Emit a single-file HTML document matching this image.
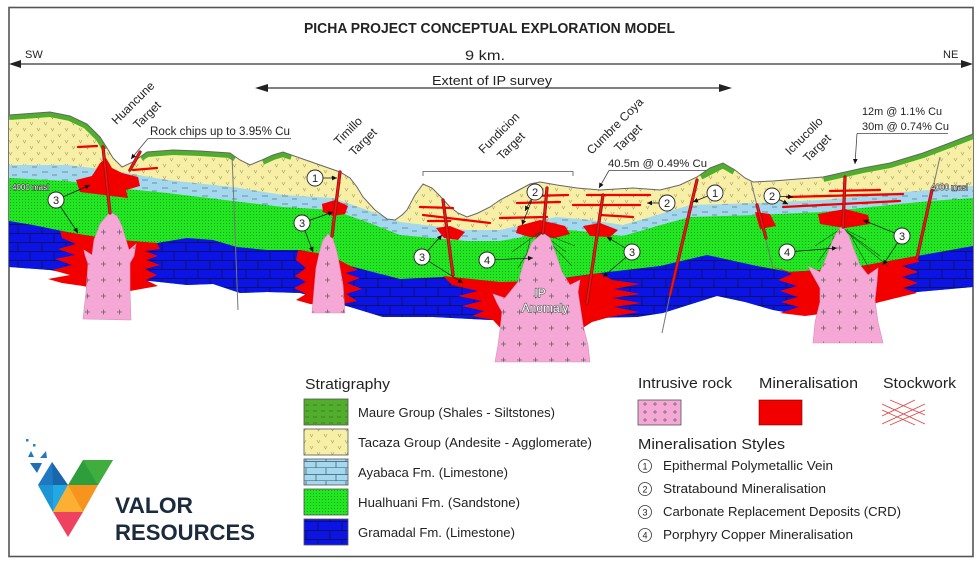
<!DOCTYPE html>
<html><head><meta charset="utf-8"><style>
html,body{margin:0;padding:0;background:#fff;}
svg{display:block;}
text{font-family:"Liberation Sans",sans-serif;fill:#222;}
</style></head><body>
<svg width="980" height="563" viewBox="0 0 980 563" xmlns="http://www.w3.org/2000/svg">
<defs>
<pattern id="py" width="14" height="12" patternUnits="userSpaceOnUse"><rect width="14" height="12" fill="#f7efa6"/><path d="M2,2 l1.5,3 l1.5,-3 M9,8 l1.5,3 l1.5,-3" stroke="#a9a262" stroke-width=".6" fill="none"/></pattern>
<pattern id="pg" width="3" height="3" patternUnits="userSpaceOnUse"><rect width="3" height="3" fill="#22e622"/><rect x="1" y="1" width="1" height="1" fill="#13a813"/></pattern>
<pattern id="pb" width="24" height="18" patternUnits="userSpaceOnUse"><rect width="24" height="18" fill="#0b14e4"/><path d="M0,8.5H24M0,17.5H24M6,0V9M18,9V18" stroke="#101040" stroke-width=".7"/></pattern>
<pattern id="plb" width="20" height="8" patternUnits="userSpaceOnUse"><rect width="20" height="8" fill="#a3d8ee"/><path d="M2,4h6M12,7h5" stroke="#445" stroke-width=".6"/></pattern>
<pattern id="plbl" width="20" height="13" patternUnits="userSpaceOnUse"><rect width="20" height="13" fill="#a3d8ee"/><path d="M0,6.5H20M0,12.8H20M6,0V6.5M16,6.5V13" stroke="#456" stroke-width=".7"/></pattern>
<pattern id="pm" width="8" height="6" patternUnits="userSpaceOnUse"><rect width="8" height="6" fill="#52ad2c"/><path d="M1,3h4" stroke="#2c6a18" stroke-width=".6"/></pattern>
<pattern id="pp" width="16" height="16" patternUnits="userSpaceOnUse"><rect width="16" height="16" fill="#f5a7d6"/><path d="M5,8h5M7.5,5.5v5" stroke="#666" stroke-width=".8"/></pattern>
<pattern id="ppl" width="10" height="8" patternUnits="userSpaceOnUse"><rect width="10" height="8" fill="#f5a7d6"/><path d="M3,4h4M5,2v4" stroke="#666" stroke-width=".7"/></pattern>
<marker id="ah" markerWidth="6" markerHeight="6" refX="5" refY="3" orient="auto" markerUnits="userSpaceOnUse"><path d="M0,0.6 L5,3 L0,5.4z" fill="#111"/></marker>
<clipPath id="ground"><polygon points="9,115 50,112 70,116 87,124 100,137 107,148 113,158 122,167 133,162 147,152 173,150 200,151 230,153 240,160 250,165 262,160 273,155 283,152 300,158 320,165 340,172 350,178 357,187 363,197 375,210 387,219 395,220 402,215 407,210 415,195 423,184 432,188 440,196 450,207 458,213 467,217 478,213 490,207 500,200 517,191 530,184 540,182 557,185 577,188 600,190 633,188 660,190 680,185 697,177 710,168 723,163 735,170 745,178 753,182 773,181 823,177 863,168 890,163 923,153 947,144 973,134 973,420 9,420"/></clipPath>
</defs>

<rect x="9" y="7.5" width="964" height="549" fill="none" stroke="#555" stroke-width="1.6"/>

<text x="304" y="33" font-size="14.5" font-weight="bold" textLength="371" lengthAdjust="spacingAndGlyphs">PICHA PROJECT CONCEPTUAL EXPLORATION MODEL</text>
<text x="465" y="60" font-size="14" textLength="40" lengthAdjust="spacingAndGlyphs">9 km.</text>
<text x="25" y="58" font-size="11">SW</text>
<text x="943" y="58" font-size="11">NE</text>
<line x1="15" y1="64" x2="967" y2="64" stroke="#333" stroke-width="1.2"/>
<polygon points="9,64 21,60 21,68" fill="#222"/>
<polygon points="973,64 961,60 961,68" fill="#222"/>
<text x="432" y="85" font-size="12.5" textLength="120" lengthAdjust="spacingAndGlyphs">Extent of  IP survey</text>
<line x1="262" y1="88" x2="726" y2="88" stroke="#333" stroke-width="1.2"/>
<polygon points="255,88 268,84 268,92" fill="#222"/>
<polygon points="732,88 719,84 719,92" fill="#222"/>

<g clip-path="url(#ground)">
<polygon fill="url(#py)" points="9,100 973,100 973,287 917,292 850,305 790,313 773,310 745,302 717,296 663,313 637,317 590,318 540,318 490,320 433,317 383,317 350,307 300,293 267,292 240,293 213,284 187,285 150,281 83,276 50,270 9,267"/>
<polygon fill="url(#plb)" points="9,165 67,165 110,170 167,180 233,187 283,195 333,198 367,210 400,222 433,226 467,230 500,230 523,225 540,220 557,217 590,220 623,225 657,215 690,205 757,203 823,200 890,193 930,190 973,186 973,287 917,292 850,305 790,313 773,310 745,302 717,296 663,313 637,317 590,318 540,318 490,320 433,317 383,317 350,307 300,293 267,292 240,293 213,284 187,285 150,281 83,276 50,270 9,267"/>
<polygon fill="url(#pg)" points="9,178 67,181 127,189 167,193 233,201 283,207 333,210 367,222 400,235 433,238 467,241 500,241 523,237 540,232 557,229 590,232 623,236 657,226 690,217 757,215 823,212 890,205 930,201 973,198 973,287 917,292 850,305 790,313 773,310 745,302 717,296 663,313 637,317 590,318 540,318 490,320 433,317 383,317 350,307 300,293 267,292 240,293 213,284 187,285 150,281 83,276 50,270 9,267"/>
<polygon fill="url(#pb)" points="9,221 33,225 67,232 110,240 157,243 187,238 213,240 237,247 267,250 300,250 330,256 350,266 400,279 443,277 500,283 540,281 600,273 660,266 707,255 757,266 790,272 850,268 917,256 973,246 973,287 917,292 850,305 790,313 773,310 745,302 717,296 663,313 637,317 590,318 540,318 490,320 433,317 383,317 350,307 300,293 267,292 240,293 213,284 187,285 150,281 83,276 50,270 9,267"/>
<g fill="none" stroke="#4fae2c" stroke-width="10" stroke-linejoin="round">
<polyline points="9,115 50,112 70,116 87,124 100,137 107,148"/>
<polyline points="140,156 147,152 173,150 200,151 230,153 236,157"/>
<polyline points="262,160 273,155 283,152 292,155"/>
<polyline points="700,175 723,163 735,170"/>
<polyline points="823,177 863,168 890,163 923,153 947,144 973,134"/>
</g>
</g>
<polyline fill="none" stroke="#666" stroke-width="1" points="9,115 50,112 70,116 87,124 100,137 107,148 113,158 122,167 133,162 147,152 173,150 200,151 230,153 240,160 250,165 262,160 273,155 283,152 300,158 320,165 340,172 350,178 357,187 363,197 375,210 387,219 395,220 402,215 407,210 415,195 423,184 432,188 440,196 450,207 458,213 467,217 478,213 490,207 500,200 517,191 530,184 540,182 557,185 577,188 600,190 633,188 660,190 680,185 697,177 710,168 723,163 735,170 745,178 753,182 773,181 823,177 863,168 890,163 923,153 947,144 973,134"/>

<g stroke="#777" stroke-width="1" fill="none">
<line x1="232" y1="155" x2="238" y2="310"/>
<line x1="670" y1="295" x2="662" y2="333"/>
<line x1="751" y1="182" x2="773" y2="268"/>
<line x1="940" y1="157" x2="917" y2="258"/>
</g>

<g fill="#f20000">
<polygon points="60,231 110,239 157,243 160,249 145,251 158,256 146,260 160,265 145,269 157,275 146,280 158,286 130,291 100,290 83,286 62,283 48,279 70,275 52,270 72,265 55,259 75,255 58,249 76,244 62,238"/>
<polygon points="298,250 330,255 350,266 358,270 345,273 360,278 347,283 362,289 346,294 357,301 332,306 310,304 296,300 306,294 294,288 306,282 295,276 306,268 296,260"/>
<polygon points="443,276 500,282 540,281 580,276 600,273 612,280 640,284 614,289 640,294 612,298 641,303 614,307 639,312 610,317 592,322 575,333 505,333 493,320 472,316 484,311 462,306 482,301 458,296 478,291 452,285"/>
<polygon points="770,266 790,272 850,268 917,256 919,262 902,266 918,272 902,277 918,283 903,288 917,293 880,302 852,310 805,316 780,313 799,307 781,302 798,297 780,291 797,286 778,280 792,274"/>
<polygon points="76,180 92,176 100,163 106,158 112,168 122,173 138,177 140,186 126,190 128,198 112,196 96,194 80,192"/>
<polygon points="322,204 335,200 348,206 345,214 333,216 323,212"/>
<polygon points="436,228 450,226 465,232 458,240 444,238"/>
<polygon points="518,226 540,220 565,226 570,234 555,238 530,237 516,233"/>
<polygon points="583,226 600,223 618,230 610,237 590,236"/>
<polygon points="755,212 770,214 776,226 760,229"/>
<polygon points="818,214 845,209 868,215 870,224 845,228 820,224"/>
</g>
<g stroke="#f20000" stroke-width="2.3" stroke-linecap="round" fill="none">
<line x1="78" y1="147" x2="97" y2="146"/>
<line x1="133" y1="170" x2="157" y2="168"/>
<line x1="420" y1="207" x2="453" y2="208"/>
<line x1="423" y1="215" x2="490" y2="223"/>
<line x1="428" y1="221" x2="450" y2="221"/>
<line x1="517" y1="203" x2="560" y2="202"/>
<line x1="500" y1="218" x2="547" y2="217"/>
<line x1="530" y1="196" x2="568" y2="195"/>
<line x1="587" y1="195" x2="650" y2="195"/>
<line x1="573" y1="205" x2="640" y2="205"/>
<line x1="600" y1="215" x2="633" y2="217"/>
<line x1="787" y1="197" x2="903" y2="194"/>
<line x1="783" y1="207" x2="900" y2="201"/>
<line x1="830" y1="191" x2="880" y2="190"/>
</g>

<g stroke="#1d4a1d" stroke-width=".6" fill="none">
<path d="M540,232 L512,252 M540,232 L518,268 M540,232 L528,278 M540,232 L566,252 M540,232 L572,266 M540,232 L575,246 M530,240 L522,275 M550,240 L560,276"/>
<path d="M842,228 L815,246 M842,228 L818,262 M842,228 L830,272 M842,228 L866,240 M842,228 L880,256 M842,228 L888,266 M850,234 L870,270 M834,236 L824,270"/>
</g>

<g stroke="#d890be" stroke-width=".6">
<polygon fill="url(#pp)" points="110,212 117,216 122,226 126,240 129,250 136,244 134,256 130,263 130,290 131,320 83,319 86,292 88,264 85,255 84,250 92,255 94,240 100,224"/>
<polygon fill="url(#pp)" points="328,234 333,239 337,252 340,268 343,285 345,313 312,313 314,290 316,268 320,250 323,240"/>
<polygon fill="url(#pp)" points="543,233 550,238 557,257 562,272 570,285 580,280 578,292 580,305 583,325 588,345 590,362 495,362 498,345 500,330 502,312 497,303 493,294 505,298 518,282 524,262 532,242"/>
<polygon fill="url(#pp)" points="842,226 849,236 855,252 860,265 868,275 878,268 877,282 875,300 878,322 883,343 813,343 815,322 820,302 820,288 811,272 808,266 820,272 826,258 832,242 837,232"/>
</g>

<g stroke="#8a1010" stroke-width="3.2" stroke-linecap="round" fill="none">
<line x1="103" y1="147" x2="110" y2="213"/>
<line x1="130" y1="170" x2="140" y2="152"/>
<line x1="340" y1="172" x2="332" y2="236"/>
<line x1="443" y1="200" x2="453" y2="275"/>
<line x1="547" y1="188" x2="543" y2="233"/>
<line x1="603" y1="195" x2="587" y2="303"/>
<line x1="697" y1="180" x2="670" y2="295"/>
<line x1="845" y1="177" x2="843" y2="227"/>
<line x1="932" y1="190" x2="917" y2="258"/>
<line x1="757" y1="205" x2="766" y2="238"/>
</g>
<g stroke="#f01414" stroke-width="1.8" stroke-linecap="round" fill="none">
<line x1="103" y1="147" x2="110" y2="213"/>
<line x1="130" y1="170" x2="140" y2="152"/>
<line x1="340" y1="172" x2="332" y2="236"/>
<line x1="443" y1="200" x2="453" y2="275"/>
<line x1="547" y1="188" x2="543" y2="233"/>
<line x1="603" y1="195" x2="587" y2="303"/>
<line x1="697" y1="180" x2="670" y2="295"/>
<line x1="845" y1="177" x2="843" y2="227"/>
<line x1="932" y1="190" x2="917" y2="258"/>
<line x1="757" y1="205" x2="766" y2="238"/>
</g>

<g font-size="12" style="paint-order:stroke" stroke="#555" stroke-width="1.2">
<text x="540" y="297" text-anchor="middle" style="fill:#fff">IP</text>
<text x="545" y="312" text-anchor="middle" style="fill:#fff">Anomaly</text>
</g>

<g font-size="8" style="paint-order:stroke" stroke="#222" stroke-width="1">
<text x="12" y="190" style="fill:#fff">4000 masl</text>
<text x="931" y="190" style="fill:#fff">4000 masl</text>
</g>

<g stroke="#111" stroke-width=".7" fill="none" marker-end="url(#ah)">
<line x1="56" y1="200" x2="90" y2="185"/>
<line x1="56" y1="200" x2="78" y2="233"/>
<line x1="315" y1="178" x2="337" y2="178"/>
<line x1="302" y1="223" x2="333" y2="212"/>
<line x1="302" y1="223" x2="313" y2="252"/>
<line x1="422" y1="257" x2="442" y2="235"/>
<line x1="422" y1="257" x2="463" y2="283"/>
<line x1="487" y1="260" x2="533" y2="258"/>
<line x1="535" y1="192" x2="525" y2="211"/>
<line x1="535" y1="192" x2="522" y2="225"/>
<line x1="667" y1="203" x2="647" y2="203"/>
<line x1="632" y1="252" x2="607" y2="237"/>
<line x1="632" y1="252" x2="603" y2="277"/>
<line x1="715" y1="193" x2="693" y2="202"/>
<line x1="772" y1="196" x2="793" y2="197"/>
<line x1="772" y1="196" x2="788" y2="204"/>
<line x1="787" y1="252" x2="837" y2="248"/>
<line x1="902" y1="236" x2="863" y2="220"/>
<line x1="902" y1="236" x2="883" y2="265"/>
</g>
<g fill="#fff" stroke="#222" stroke-width=".9">
<circle cx="56" cy="200" r="8"/><circle cx="315" cy="178" r="8"/><circle cx="302" cy="223" r="8"/>
<circle cx="422" cy="257" r="8"/><circle cx="487" cy="260" r="8"/><circle cx="535" cy="192" r="8"/>
<circle cx="667" cy="203" r="8"/><circle cx="632" cy="252" r="8"/><circle cx="715" cy="193" r="8"/>
<circle cx="772" cy="196" r="8"/><circle cx="787" cy="252" r="8"/><circle cx="902" cy="236" r="8"/>
</g>
<g font-size="11" text-anchor="middle">
<text x="56" y="204">3</text><text x="315" y="182">1</text><text x="302" y="227">3</text>
<text x="422" y="261">3</text><text x="487" y="264">4</text><text x="535" y="196">2</text>
<text x="667" y="207">2</text><text x="632" y="256">3</text><text x="715" y="197">1</text>
<text x="772" y="200">2</text><text x="787" y="256">4</text><text x="902" y="240">3</text>
</g>

<g font-size="12" text-anchor="middle">
<text transform="translate(133,103) rotate(-45)" y="4">Huancune</text>
<text transform="translate(147,115) rotate(-45)" y="4">Target</text>
<text transform="translate(348,131) rotate(-45)" y="4">Timillo</text>
<text transform="translate(363,142) rotate(-45)" y="4">Target</text>
<text transform="translate(499,133) rotate(-45)" y="4">Fundicion</text>
<text transform="translate(511,146) rotate(-45)" y="4">Target</text>
<text transform="translate(615,126) rotate(-45)" y="4">Cumbre Coya</text>
<text transform="translate(628,138) rotate(-45)" y="4">Target</text>
<text transform="translate(804,136) rotate(-45)" y="4">Ichucollo</text>
<text transform="translate(817,148) rotate(-45)" y="4">Target</text>
</g>

<text x="150" y="135" font-size="11.5" textLength="140" lengthAdjust="spacingAndGlyphs">Rock chips up to 3.95% Cu</text>
<line x1="148" y1="138.5" x2="291" y2="138.5" stroke="#444" stroke-width=".8"/>
<line x1="148" y1="138.5" x2="131" y2="159" stroke="#444" stroke-width=".8" marker-end="url(#ah)"/>
<path d="M423,176 V171.5 H573 V176" fill="none" stroke="#555" stroke-width=".8"/>
<text x="608" y="167" font-size="11" textLength="99" lengthAdjust="spacingAndGlyphs">40.5m @ 0.49% Cu</text>
<line x1="609" y1="170.5" x2="706" y2="170.5" stroke="#444" stroke-width=".8"/>
<line x1="609" y1="170.5" x2="599" y2="188" stroke="#444" stroke-width=".8" marker-end="url(#ah)"/>
<text x="862" y="115" font-size="11" textLength="80" lengthAdjust="spacingAndGlyphs">12m @ 1.1% Cu</text>
<text x="862" y="130" font-size="11" textLength="87" lengthAdjust="spacingAndGlyphs">30m @ 0.74% Cu</text>
<line x1="857" y1="133.5" x2="948" y2="133.5" stroke="#444" stroke-width=".8"/>
<line x1="857" y1="133.5" x2="855" y2="164" stroke="#444" stroke-width=".8" marker-end="url(#ah)"/>

<text x="305" y="389" font-size="15" textLength="85" lengthAdjust="spacingAndGlyphs">Stratigraphy</text>
<g stroke="#555" stroke-width=".8">
<rect x="304" y="399" width="44" height="26" fill="url(#pm)"/>
<rect x="304" y="429" width="44" height="26" fill="url(#py)"/>
<rect x="304" y="459" width="44" height="26" fill="url(#plbl)"/>
<rect x="304" y="489" width="44" height="26" fill="url(#pg)"/>
<rect x="304" y="519" width="44" height="26" fill="url(#pb)"/>
</g>
<g font-size="12.5">
<text x="358" y="417" textLength="197" lengthAdjust="spacingAndGlyphs">Maure Group (Shales - Siltstones)</text>
<text x="358" y="447" textLength="234" lengthAdjust="spacingAndGlyphs">Tacaza Group (Andesite - Agglomerate)</text>
<text x="358" y="477" textLength="150" lengthAdjust="spacingAndGlyphs">Ayabaca Fm. (Limestone)</text>
<text x="358" y="507" textLength="162" lengthAdjust="spacingAndGlyphs">Hualhuani Fm. (Sandstone)</text>
<text x="358" y="537" textLength="157" lengthAdjust="spacingAndGlyphs">Gramadal Fm. (Limestone)</text>
</g>

<g font-size="15">
<text x="638" y="388" textLength="94" lengthAdjust="spacingAndGlyphs">Intrusive rock</text>
<text x="759" y="388" textLength="99" lengthAdjust="spacingAndGlyphs">Mineralisation</text>
<text x="883" y="388" textLength="73" lengthAdjust="spacingAndGlyphs">Stockwork</text>
<text x="638" y="449" textLength="147" lengthAdjust="spacingAndGlyphs">Mineralisation  Styles</text>
</g>
<rect x="638" y="400" width="43" height="25" fill="url(#ppl)" stroke="#555" stroke-width=".8"/>
<rect x="759" y="400" width="43" height="25" fill="#f20000" stroke="#700" stroke-width=".6"/>
<path d="M882,404 L925,424 M882,424 L925,404 M890,400 L925,415 M882,410 L915,425 M890,425 L925,410 M882,416 L915,400" stroke="#e04848" stroke-width=".9" fill="none"/>
<g fill="none" stroke="#333" stroke-width=".8">
<circle cx="645" cy="466" r="6.5"/><circle cx="645" cy="489" r="6.5"/><circle cx="645" cy="512" r="6.5"/><circle cx="645" cy="535" r="6.5"/>
</g>
<g font-size="9" text-anchor="middle">
<text x="645" y="469.5">1</text><text x="645" y="492.5">2</text><text x="645" y="515.5">3</text><text x="645" y="538.5">4</text>
</g>
<g font-size="12.5">
<text x="663" y="470" textLength="170" lengthAdjust="spacingAndGlyphs">Epithermal Polymetallic Vein</text>
<text x="663" y="493" textLength="163" lengthAdjust="spacingAndGlyphs">Stratabound Mineralisation</text>
<text x="663" y="516" textLength="238" lengthAdjust="spacingAndGlyphs">Carbonate Replacement Deposits (CRD)</text>
<text x="663" y="539" textLength="190" lengthAdjust="spacingAndGlyphs">Porphyry Copper Mineralisation</text>
</g>

<g>
<rect x="26" y="439" width="2.5" height="2.5" fill="#2a7fc0"/>
<rect x="33" y="444" width="2.5" height="2.5" fill="#2a7fc0"/>
<polygon points="28,457 31,451 34,457" fill="#2378bf"/>
<polygon points="40,458 46,451 47,458" fill="#2378bf"/>
<polygon points="30,463 42,463 37,473" fill="#1e6fb5"/>
<polygon points="52,462 38,485 68,485" fill="#1f78c2"/>
<polygon points="52,462 53,485 68,485" fill="#1a66ad"/>
<polygon points="38,485 68,485 53,512" fill="#24a8e2"/>
<polygon points="38,485 53,485 53,512" fill="#1d95d4"/>
<polygon points="68,485 83,460 113,460 98,485" fill="#2e9d3c"/>
<polygon points="83,460 113,460 98,485" fill="#3fae3f"/>
<polygon points="68,485 98,485 83,512 53,512" fill="#f7941d"/>
<polygon points="68,485 83,512 53,512" fill="#fbb034"/>
<polygon points="53,512 83,512 68,537" fill="#ef4160"/>
</g>
<text x="115" y="513" font-size="22" font-weight="bold" textLength="78" lengthAdjust="spacingAndGlyphs" style="fill:#1b2a3c">VALOR</text>
<text x="115" y="540" font-size="22" font-weight="bold" textLength="140" lengthAdjust="spacingAndGlyphs" style="fill:#1b2a3c">RESOURCES</text>
</svg>
</body></html>
